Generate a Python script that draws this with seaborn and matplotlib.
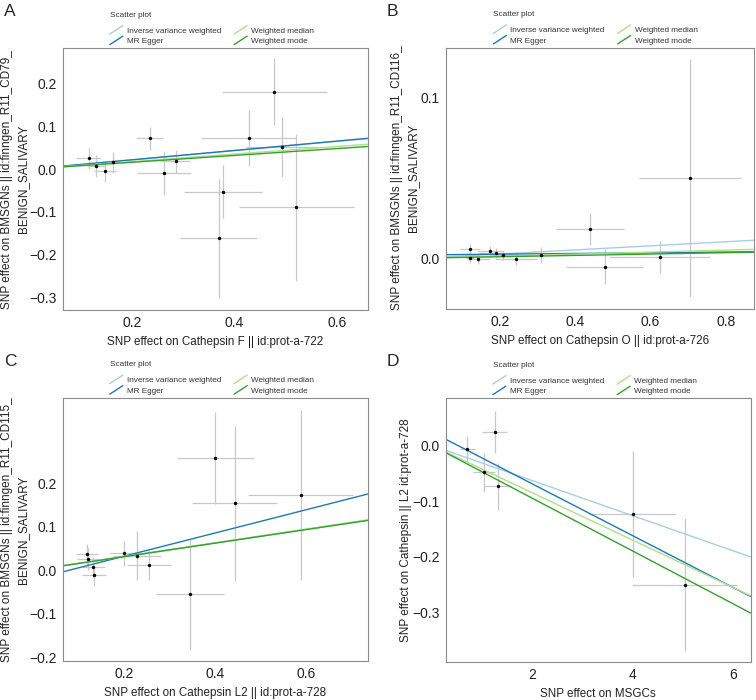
import numpy as np
import pandas as pd
import matplotlib
matplotlib.use("Agg")
import matplotlib.pyplot as plt
from matplotlib.lines import Line2D
from matplotlib.legend_handler import HandlerLine2D
import seaborn as sns

# ---- data ----
# panel A: Cathepsin F -> BMSGNs CD79
a_x = [0.115, 0.130, 0.147, 0.162, 0.234, 0.262, 0.285, 0.377, 0.369, 0.428, 0.478, 0.493, 0.521]
a_y = [0.025, 0.007, -0.005, 0.016, 0.072, -0.009, 0.018, -0.053, -0.161, 0.073, 0.181, 0.052, -0.089]
a_xe = [0.025, 0.018, 0.021, 0.008, 0.027, 0.053, 0.028, 0.076, 0.075, 0.093, 0.103, 0.070, 0.112]
a_ye = [0.025, 0.025, 0.025, 0.025, 0.027, 0.052, 0.027, 0.062, 0.139, 0.065, 0.079, 0.070, 0.171]
a_slope = [0.108, 0.109, 0.088, 0.080]
a_icpt = [0.0, 0.0, 0.0, 0.0]

# panel B: Cathepsin O -> BMSGNs CD116
b_x = [0.121, 0.120, 0.143, 0.174, 0.189, 0.207, 0.243, 0.310, 0.440, 0.478, 0.624, 0.704]
b_y = [0.0058, 0.0002, -0.0008, 0.0043, 0.0033, 0.0017, -0.0004, 0.0021, 0.018, -0.0054, 0.0006, 0.050]
b_xe = [0.027, 0.010, 0.029, 0.034, 0.045, 0.030, 0.055, 0.010, 0.090, 0.103, 0.133, 0.135]
b_ye = [0.003, 0.003, 0.003, 0.003, 0.003, 0.003, 0.004, 0.005, 0.0098, 0.011, 0.010, 0.074]
b_slope = [0.0127, 0.0022, 0.0062, 0.0042]
b_icpt = [0.0, 0.002, 0.0, 0.0]

# panel C: Cathepsin L2 -> BMSGNs CD115
c_x = [0.117, 0.119, 0.131, 0.132, 0.199, 0.228, 0.254, 0.344, 0.400, 0.443, 0.588]
c_y = [0.036, 0.025, 0.008, -0.012, 0.039, 0.033, 0.012, -0.056, 0.258, 0.154, 0.173]
c_xe = [0.024, 0.025, 0.026, 0.026, 0.032, 0.053, 0.049, 0.075, 0.085, 0.094, 0.115]
c_ye = [0.025, 0.025, 0.023, 0.024, 0.029, 0.056, 0.035, 0.127, 0.106, 0.178, 0.195]
c_slope = [0.156, 0.266, 0.157, 0.155]
c_icpt = [0.0, -0.021, 0.0, 0.0]

# panel D: MSGCs -> Cathepsin L2
d_x = [0.69, 1.24, 1.02, 1.30, 4.00, 5.04]
d_y = [-0.006, 0.025, -0.048, -0.073, -0.123, -0.250]
d_xe = [0.15, 0.25, 0.22, 0.27, 0.87, 1.05]
d_ye = [0.024, 0.038, 0.035, 0.042, 0.114, 0.120]
d_slope = [-0.0315, -0.0465, -0.0425, -0.0474]
d_icpt = [0.0, 0.024, 0.0, 0.0]

methods = ["Inverse variance weighted", "MR Egger", "Weighted median", "Weighted mode"]
colors = ["#A6CEE3", "#1F78B4", "#B2DF8A", "#33A02C"]

panels = [
    dict(tag="A", x=a_x, y=a_y, xe=a_xe, ye=a_ye, slope=a_slope, icpt=a_icpt,
         xlim=(0.065, 0.66), ylim=(-0.329, 0.282), xticks=[0.2, 0.4, 0.6],
         yticks=[-0.3, -0.2, -0.1, 0.0, 0.1, 0.2],
         xlabel="SNP effect on Cathepsin F || id:prot-a-722",
         ylabel="SNP effect on BMSGNs || id:finngen_R11_CD79_\nBENIGN_SALIVARY",
         pos=[0.0833, 0.557, 0.403, 0.374], ylab_x=-0.156),
    dict(tag="B", x=b_x, y=b_y, xe=b_xe, ye=b_ye, slope=b_slope, icpt=b_icpt,
         xlim=(0.057, 0.876), ylim=(-0.0315, 0.131), xticks=[0.2, 0.4, 0.6, 0.8],
         yticks=[0.0, 0.1],
         xlabel="SNP effect on Cathepsin O || id:prot-a-726",
         ylabel="SNP effect on BMSGNs || id:finngen_R11_CD116_\nBENIGN_SALIVARY",
         pos=[0.590, 0.559, 0.408, 0.373], ylab_x=-0.132),
    dict(tag="C", x=c_x, y=c_y, xe=c_xe, ye=c_ye, slope=c_slope, icpt=c_icpt,
         xlim=(0.064, 0.736), ylim=(-0.209, 0.396), xticks=[0.2, 0.4, 0.6],
         yticks=[-0.2, -0.1, 0.0, 0.1, 0.2],
         xlabel="SNP effect on Cathepsin L2 || id:prot-a-728",
         ylabel="SNP effect on BMSGNs || id:finngen_R11_CD115_\nBENIGN_SALIVARY",
         pos=[0.0833, 0.0557, 0.403, 0.376], ylab_x=-0.157),
    dict(tag="D", x=d_x, y=d_y, xe=d_xe, ye=d_ye, slope=d_slope, icpt=d_icpt,
         xlim=(0.27, 6.36), ylim=(-0.390, 0.0855), xticks=[2, 4, 6],
         yticks=[-0.3, -0.2, -0.1, 0.0],
         xlabel="SNP effect on MSGCs",
         ylabel="SNP effect on Cathepsin || L2 id:prot-a-728",
         pos=[0.590, 0.054, 0.403, 0.377], ylab_x=-0.130),
]


class DiagHandler(HandlerLine2D):
    # ggplot abline legend keys are short diagonal strokes
    def create_artists(self, legend, orig_handle, xdescent, ydescent,
                       width, height, fontsize, trans):
        ln = Line2D([-xdescent, -xdescent + width], [-ydescent - 1, -ydescent + height + 1],
                    color=orig_handle.get_color(), lw=orig_handle.get_linewidth())
        ln.set_transform(trans)
        return [ln]


sns.set_style("white")
plt.rcParams["font.family"] = ["Liberation Sans", "DejaVu Sans"]

fig = plt.figure(figsize=(7.56, 7.0), dpi=100)

for p in panels:
    ax = fig.add_axes(p["pos"])
    df = pd.DataFrame({"x": p["x"], "y": p["y"], "xe": p["xe"], "ye": p["ye"]})
    ax.errorbar(df["x"], df["y"], xerr=df["xe"], fmt="none", ecolor="#c8c8c8", lw=0.9, zorder=1)
    ax.errorbar(df["x"], df["y"], yerr=df["ye"], fmt="none", ecolor="#c8c8c8", lw=0.9, zorder=1)
    sns.scatterplot(data=df, x="x", y="y", ax=ax, color="black", s=6, linewidth=0, zorder=3)
    for m, c, s, b in zip(methods, colors, p["slope"], p["icpt"]):
        ax.axline((0, b), slope=s, color=c, lw=1.0, zorder=2, label=m)
    ax.set_xlim(p["xlim"])
    ax.set_ylim(p["ylim"])
    ax.set_xticks(p["xticks"])
    ax.set_yticks(p["yticks"])
    ax.set_xticklabels(["%g" % t for t in p["xticks"]])
    ax.set_yticklabels([("%.1f" % t).replace("-", "\u2212") for t in p["yticks"]])
    ax.tick_params(labelsize=10, length=2.5, width=0.6, color="#555555", colors="#222222", pad=2)
    ax.set_xlabel(p["xlabel"], fontsize=8.4, color="#222222", labelpad=4)
    ax.set_ylabel(p["ylabel"], fontsize=8.5, color="#222222", linespacing=1.45, va="center")
    ax.yaxis.set_label_coords(p["ylab_x"], 0.5)
    for sp in ax.spines.values():
        sp.set_color("#8c8c8c")
        sp.set_linewidth(0.8)
    ax.grid(False)

    handles = [Line2D([], [], color=c, lw=1.0) for c in colors]
    leg = ax.legend(handles, methods,
                    ncol=2, title="Scatter plot", loc="lower left",
                    bbox_to_anchor=(0.135, 0.99), frameon=False, fontsize=5.85,
                    title_fontsize=5.85, handlelength=1.6, handletextpad=0.5,
                    columnspacing=1.6, labelspacing=0.35, borderpad=0.2,
                    handler_map={Line2D: DiagHandler()})
    leg._legend_box.align = "left"
    leg._legend_box.sep = 6
    for t in leg.get_texts():
        t.set_color("#333333")
    leg.get_title().set_color("#333333")

    bb = ax.get_position()
    fig.text(bb.x0 - 0.078, 0.995 if p["tag"] in "AB" else 0.495, p["tag"],
             fontsize=12.5, va="top", ha="left")

fig.savefig("out.png", dpi=100)
